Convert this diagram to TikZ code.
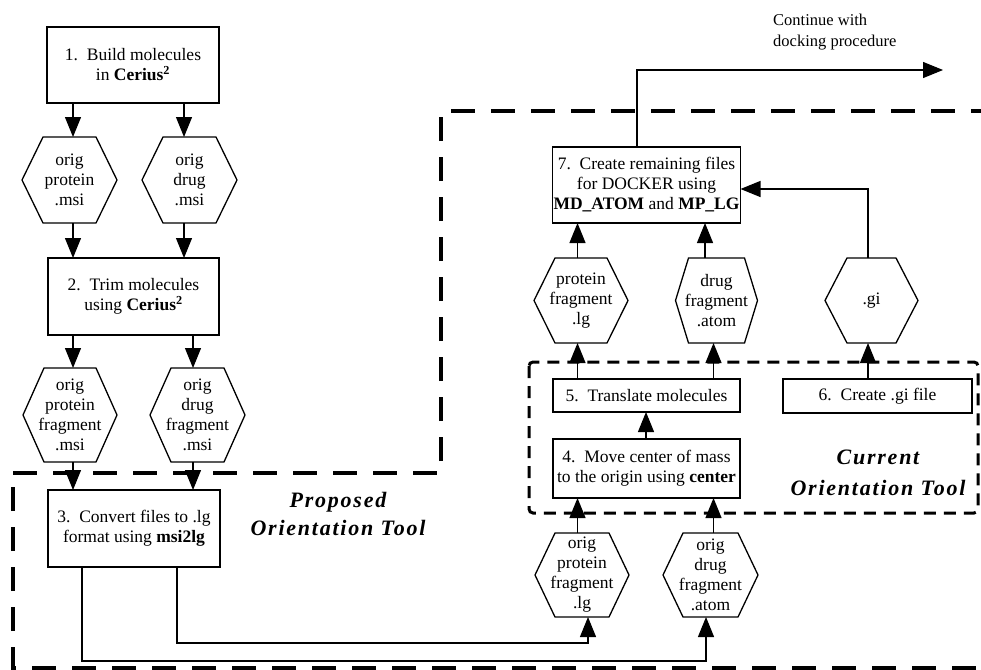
\documentclass[tikz,border=0pt]{standalone}
\usepackage{fontspec}
\setmainfont{Liberation Serif}
\usetikzlibrary{arrows.meta,calc}

\newcommand{\boxfont}{\fontsize{17.5}{20}\selectfont}
\newcommand{\notefont}{\fontsize{16.5}{21}\selectfont}
\newcommand{\toolfont}{\fontsize{22}{28}\selectfont\bfseries\itshape\addfontfeatures{LetterSpace=8}}

\tikzset{
  procbox/.style={draw, line width=1.4pt, inner sep=1pt, outer sep=0pt, align=center, font=\boxfont},
  hextext/.style={inner sep=0pt, outer sep=0pt, align=center, font=\boxfont},
  hexline/.style={line width=1.3pt, line join=miter},
  conn/.style={line width=1.2pt, -{Triangle[length=20pt,width=16pt]}},
  propline/.style={line width=3.5pt, dash pattern=on 24pt off 16pt},
  curline/.style={line width=3pt, dash pattern=on 12pt off 8pt, rounded corners=4pt},
  toollabel/.style={align=center, inner sep=0pt, font=\toolfont},
}

% hexagonal file node: name, centre x, centre y, width, height, slant, text
\newcommand{\hexnode}[7]{%
  \node[hextext, minimum width=#4pt, minimum height=#5pt] (#1) at (#2,#3) {#7};
  \draw[hexline] (#1.west) -- ([xshift=#6pt]#1.north west) -- ([xshift=-#6pt]#1.north east)
    -- (#1.east) -- ([xshift=-#6pt]#1.south east) -- ([xshift=#6pt]#1.south west) -- cycle;
}

\begin{document}
\begin{tikzpicture}[x=1pt,y=-1pt]
\useasboundingbox (0,0) rectangle (981,669);
\clip (0,0) rectangle (981,669);

% tool regions
\draw[propline] (13,473) -- (441,473) -- (441,111) -- (995,111) -- (995,668) -- (13,668) -- cycle;
\draw[curline] (529,362) rectangle (978,513);

% process boxes
\node[procbox, minimum width=172pt, minimum height=76pt] (b1) at (133,65)
  {1.\ \ Build molecules\\in \textbf{Cerius\textsuperscript{2}}};
\node[procbox, minimum width=171pt, minimum height=77pt] (b2) at (133.5,296.5)
  {2.\ \ Trim molecules\\using \textbf{Cerius\textsuperscript{2}}};
\node[procbox, minimum width=172pt, minimum height=77pt] (b3) at (134,528.5)
  {3.\ \ Convert files to .lg\\format using \textbf{msi2lg}};
\node[procbox, minimum width=187pt, minimum height=59pt] (b4) at (646.5,468.5)
  {4.\ \ Move center of mass\\to the origin using \textbf{center}};
\node[procbox, minimum width=187pt, minimum height=33pt] (b5) at (646.5,395.5)
  {5.\ \ Translate molecules};
\node[procbox, minimum width=189pt, minimum height=34pt] (b6) at (877.5,396)
  {6.\ \ Create .gi file};
\node[procbox, minimum width=187pt, minimum height=76pt] (b7) at (646.5,185)
  {7.\ \ Create remaining files\\for DOCKER using\\\textbf{MD\_ATOM} and \textbf{MP\_LG}};

% file nodes
\hexnode{h1}{69.5}{180}{95}{86}{21}{orig\\protein\\.msi}
\hexnode{h2}{189.5}{180}{95}{86}{21}{orig\\drug\\.msi}
\hexnode{h3}{70}{415}{94}{94}{21}{orig\\protein\\fragment\\.msi}
\hexnode{h4}{197.5}{415}{95}{94}{21}{orig\\drug\\fragment\\.msi}
\hexnode{h5}{582}{575}{94}{84}{20}{orig\\protein\\fragment\\.lg}
\hexnode{h6}{710.5}{575}{95}{84}{20}{orig\\drug\\fragment\\.atom}
\hexnode{h7}{581}{300.5}{94}{85}{21}{protein\\fragment\\.lg}
\hexnode{h8}{716.5}{300.5}{82}{85}{13}{drug\\fragment\\.atom}
\hexnode{h9}{871.5}{300.5}{93}{85}{22}{.gi}

% region labels
\node[toollabel] (proplabel) at (338,514) {Proposed\\Orientation Tool};
\node[toollabel, font=\fontsize{22}{31}\selectfont\bfseries\itshape\addfontfeatures{LetterSpace=8}]
  (curlabel) at (878,472.5) {Current\\Orientation Tool};
\node[anchor=west, align=left, inner sep=0pt, font=\notefont] (contlabel) at (773,32.5)
  {Continue with\\docking procedure};

% connector columns and turning points
\coordinate (xA) at (73,0);
\coordinate (xB) at (184,0);
\coordinate (xC) at (193,0);
\coordinate (xF) at (577.5,0);
\coordinate (xG) at (588,0);
\coordinate (xH) at (706,0);
\coordinate (xI) at (713.5,0);
\coordinate (xJ) at (705,0);
\coordinate (xK) at (646,0);
\coordinate (xL) at (868,0);
\coordinate (xM) at (637,0);
\coordinate (lowA) at (82,661);
\coordinate (lowB) at (177,643);
\coordinate (goon) at (943,70);

% connectors
\draw[conn] (b1.south -| xA) -- (h1.north -| xA);
\draw[conn] (b1.south -| xB) -- (h2.north -| xB);
\draw[conn] (h1.south -| xA) -- (b2.north -| xA);
\draw[conn] (h2.south -| xB) -- (b2.north -| xB);
\draw[conn] (b2.south -| xA) -- (h3.north -| xA);
\draw[conn] (b2.south -| xC) -- (h4.north -| xC);
\draw[conn] (h3.south -| xA) -- (b3.north -| xA);
\draw[conn] (h4.south -| xC) -- (b3.north -| xC);
\draw[conn] (b3.south -| lowA) -- (lowA) -| (h6.south -| xH);
\draw[conn] (b3.south -| lowB) -- (lowB) -| (h5.south -| xG);
\draw[conn] (h5.north -| xF) -- (b4.south -| xF);
\draw[conn] (h6.north -| xI) -- (b4.south -| xI);
\draw[conn] (b4.north -| xK) -- (b5.south -| xK);
\draw[conn] (b5.north -| xF) -- (h7.south -| xF);
\draw[conn] (b5.north -| xI) -- (h8.south -| xI);
\draw[conn] (b6.north -| xL) -- (h9.south -| xL);
\draw[conn] (h7.north -| xF) -- (b7.south -| xF);
\draw[conn] (h8.north -| xJ) -- (b7.south -| xJ);
\draw[conn] (h9.north -| xL) |- ([yshift=-4pt]b7.east);
\draw[conn] (b7.north -| xM) |- (goon);
\end{tikzpicture}
\end{document}
